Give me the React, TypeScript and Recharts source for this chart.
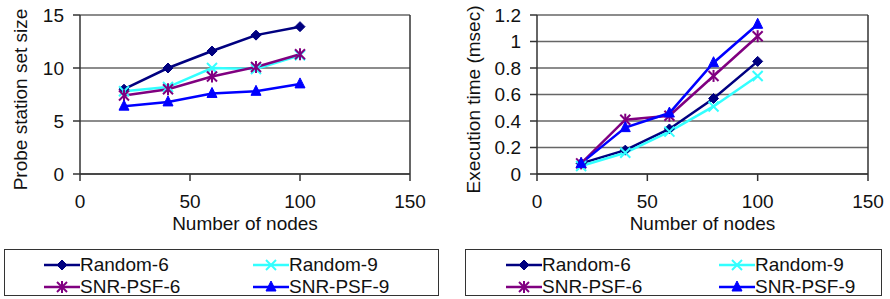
import React from "react";
import {
  CartesianGrid,
  Line,
  LineChart,
  ReferenceLine,
  XAxis,
  YAxis,
} from "recharts";

const nodes = [20, 40, 60, 80, 100];
const xTicks = [0, 50, 100, 150];

// probe station set size
const sizeRandom6 = [8.0, 10.0, 11.6, 13.1, 13.9];
const sizeRandom9 = [7.8, 8.2, 10.0, 9.9, 11.2];
const sizeSnr6 = [7.4, 8.0, 9.2, 10.1, 11.3];
const sizeSnr9 = [6.4, 6.8, 7.6, 7.8, 8.5];
const sizeTicks = [0, 5, 10, 15];

// execution time (msec)
const timeRandom6 = [0.08, 0.18, 0.34, 0.57, 0.85];
const timeRandom9 = [0.06, 0.16, 0.32, 0.51, 0.74];
const timeSnr6 = [0.08, 0.41, 0.44, 0.74, 1.04];
const timeSnr9 = [0.08, 0.35, 0.46, 0.84, 1.13];
const timeTicks = [0, 0.2, 0.4, 0.6, 0.8, 1, 1.2];

const seriesNames = ["Random-6", "Random-9", "SNR-PSF-6", "SNR-PSF-9"];

type Marker = "diamond" | "x" | "star" | "triangle";

const seriesStyle: { key: string; color: string; marker: Marker }[] = [
  { key: "r6", color: "#000080", marker: "diamond" },
  { key: "r9", color: "#33ffff", marker: "x" },
  { key: "s6", color: "#800080", marker: "star" },
  { key: "s9", color: "#0000ff", marker: "triangle" },
];

const FONT = '"Liberation Sans", Arial, sans-serif';
const AXIS = "#333";
const GRID = "#666";

function buildRows(a: number[], b: number[], c: number[], d: number[]) {
  return nodes.map((n, i) => ({ n, r6: a[i], r9: b[i], s6: c[i], s9: d[i] }));
}

const sizeRows = buildRows(sizeRandom6, sizeRandom9, sizeSnr6, sizeSnr9);
const timeRows = buildRows(timeRandom6, timeRandom9, timeSnr6, timeSnr9);

function MarkerShape({ kind, color, cx, cy }: { kind: Marker; color: string; cx: number; cy: number }) {
  const r = 5;
  if (kind === "diamond") {
    return (
      <polygon
        points={`${cx},${cy - r} ${cx + r},${cy} ${cx},${cy + r} ${cx - r},${cy}`}
        fill={color}
        stroke={color}
      />
    );
  }
  if (kind === "triangle") {
    return (
      <polygon
        points={`${cx},${cy - r - 1} ${cx + r},${cy + r - 1} ${cx - r},${cy + r - 1}`}
        fill={color}
        stroke={color}
      />
    );
  }
  const arms = (
    <>
      <line x1={cx - r} y1={cy - r} x2={cx + r} y2={cy + r} />
      <line x1={cx - r} y1={cy + r} x2={cx + r} y2={cy - r} />
    </>
  );
  return (
    <g stroke={color} strokeWidth={2}>
      {arms}
      {kind === "star" && <line x1={cx} y1={cy - r - 1} x2={cx} y2={cy + r + 1} />}
    </g>
  );
}

function dotFor(kind: Marker, color: string) {
  return (props: any) => (
    <MarkerShape key={`${kind}-${props.index}`} kind={kind} color={color} cx={props.cx} cy={props.cy} />
  );
}

function Panel({
  rows,
  ticks,
  yLabel,
  yAxisWidth,
  rightMargin,
  labelX,
}: {
  rows: any[];
  ticks: number[];
  yLabel: string;
  yAxisWidth: number;
  rightMargin: number;
  labelX: number;
}) {
  const top = ticks[ticks.length - 1];
  return (
    <LineChart
      width={445}
      height={247}
      data={rows}
      margin={{ top: 15, right: rightMargin, left: 0, bottom: 0 }}
      style={{ fontFamily: FONT }}
    >
      <CartesianGrid vertical={false} stroke={GRID} strokeWidth={1.5} />
      <ReferenceLine x={150} stroke={AXIS} strokeWidth={1.5} />
      <XAxis
        dataKey="n"
        type="number"
        domain={[0, 150]}
        ticks={xTicks}
        height={73}
        tickSize={7}
        tickMargin={14}
        stroke={AXIS}
        strokeWidth={1.5}
        tick={{ fill: "#111", fontSize: 19 }}
        label={{
          value: "Number of nodes",
          position: "insideBottom",
          offset: 17,
          fill: "#111",
          fontSize: 19,
        }}
      />
      <YAxis
        type="number"
        domain={[0, top]}
        ticks={ticks}
        width={yAxisWidth}
        tickSize={7}
        tickMargin={9}
        stroke={AXIS}
        strokeWidth={1.5}
        interval={0}
        tick={{ fill: "#111", fontSize: 19 }}
        label={{
          content: ({ viewBox }: any) => {
            const cy = viewBox.y + viewBox.height / 2 + 5;
            return (
              <text
                x={labelX}
                y={cy}
                transform={`rotate(-90 ${labelX} ${cy})`}
                textAnchor="middle"
                dominantBaseline="central"
                fill="#111"
                fontSize={19}
                fontFamily={FONT}
              >
                {yLabel}
              </text>
            );
          },
        }}
      />
      {seriesStyle.map((s, i) => (
        <Line
          key={s.key}
          dataKey={s.key}
          name={seriesNames[i]}
          stroke={s.color}
          strokeWidth={2.5}
          dot={dotFor(s.marker, s.color)}
          activeDot={false}
          isAnimationActive={false}
        />
      ))}
    </LineChart>
  );
}

function LegendBox({
  left,
  width,
  col1,
  col2,
}: {
  left: number;
  width: number;
  col1: number;
  col2: number;
}) {
  const item = (i: number, x: number, y: number) => {
    const s = seriesStyle[i];
    return (
      <div
        key={s.key}
        style={{
          position: "absolute",
          left: x - left,
          top: y,
          height: 22,
          display: "flex",
          alignItems: "center",
          fontSize: 19,
          color: "#111",
          whiteSpace: "nowrap",
        }}
      >
        <svg width={36} height={16} style={{ marginRight: 0 }}>
          <line x1={0} y1={8} x2={36} y2={8} stroke={s.color} strokeWidth={2.5} />
          <MarkerShape kind={s.marker} color={s.color} cx={18} cy={8} />
        </svg>
        <span>{seriesNames[i]}</span>
      </div>
    );
  };
  return (
    <div
      style={{
        position: "absolute",
        left,
        top: 249,
        width,
        height: 47,
        border: "1px solid #333",
        boxSizing: "border-box",
      }}
    >
      {item(0, col1, 4)}
      {item(1, col2, 4)}
      {item(2, col1, 26)}
      {item(3, col2, 26)}
    </div>
  );
}

export default function App() {
  return (
    <div
      style={{
        position: "absolute",
        left: 0,
        top: 0,
        width: 890,
        height: 299,
        background: "#fff",
        fontFamily: FONT,
        overflow: "hidden",
      }}
    >
      <div style={{ position: "absolute", left: 0, top: 0 }}>
        <Panel
          rows={sizeRows}
          ticks={sizeTicks}
          yLabel="Probe station set size"
          yAxisWidth={80}
          rightMargin={35}
          labelX={20}
        />
      </div>
      <div style={{ position: "absolute", left: 445, top: 0 }}>
        <Panel
          rows={timeRows}
          ticks={timeTicks}
          yLabel="Execution time (msec)"
          yAxisWidth={92}
          rightMargin={22}
          labelX={28}
        />
      </div>
      <LegendBox left={4} width={435} col1={43} col2={252} />
      <LegendBox left={465} width={417} col1={505} col2={718} />
    </div>
  );
}
